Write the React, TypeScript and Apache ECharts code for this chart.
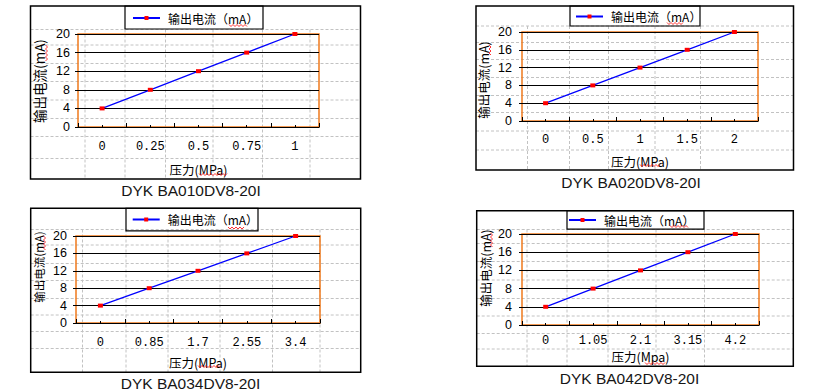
import React, { useEffect, useRef } from 'react';
import * as echarts from 'echarts';

// ---------- data ----------
const seriesName = '输出电流（mA）';
const yAxisName = '输出电流(mA)';
const xAxisNames = ['压力(MPa)', '压力(MPa)', '压力(MPa)', '压力(Mpa)'];
const modelNames = ['DYK BA010DV8-20I', 'DYK BA020DV8-20I', 'DYK BA034DV8-20I', 'DYK BA042DV8-20I'];

const pressure1 = ['0', '0.25', '0.5', '0.75', '1'];
const pressure2 = ['0', '0.5', '1', '1.5', '2'];
const pressure3 = ['0', '0.85', '1.7', '2.55', '3.4'];
const pressure4 = ['0', '1.05', '2.1', '3.15', '4.2'];

const current1 = [4, 8, 12, 16, 20];
const current2 = [4, 8, 12, 16, 20];
const current3 = [4, 8, 12, 16, 20];
const current4 = [4, 8, 12, 16, 20];

const yMin = 0;
const yMax = 20;
const yStep = 4;

// ---------- layout ----------
const CJK = '"Noto Sans CJK SC", "Noto Sans", sans-serif';
const ORANGE = '#f07a1c';

const panels = [
  {
    cats: pressure1, values: current1,
    box: [30.5, 6, 330, 173], legendBox: [125, 6, 138, 23], legendAt: [132, 12],
    grid: [78, 34, 241, 93], yLabelMargin: 8, xLabelMargin: 14, xNameGap: 36,
    yName: [39, 81, 13.5],
    title: [191, 190.5],
    hLines: [29.5, 45, 63.5, 81.5, 100, 118.5, 136.5, 158.5], vLines: [85, 125, 165.5, 213, 262.5, 310],
    squigH: [[229, 248, 25.5], [199, 227, 174.5]], squigV: [[46.5, 45, 61]],
  },
  {
    cats: pressure2, values: current2,
    box: [476, 6, 317.5, 164], legendBox: [570, 6, 130, 20], legendAt: [575, 10.5],
    grid: [522, 32, 236, 89], yLabelMargin: 10, xLabelMargin: 13, xNameGap: 34,
    yName: [483.5, 80, 12.5],
    title: [631, 182.5],
    hLines: [26, 42.5, 59.5, 77.5, 95.5, 112.5, 131, 150], vLines: [527.5, 569.5, 608.5, 655, 700.5],
    squigH: [[667, 684, 23.5], [640, 661, 165.5]], squigV: [[490, 45, 56]],
  },
  {
    cats: pressure3, values: current3,
    box: [30.7, 208.3, 330, 164], legendBox: [126, 208.3, 132, 22.5], legendAt: [131.7, 213.5],
    grid: [76, 236, 244, 87], yLabelMargin: 9, xLabelMargin: 14, xNameGap: 33,
    yName: [38.5, 267, 11.5],
    title: [190.5, 383],
    hLines: [229.5, 245, 263.5, 280.5, 298.5, 315, 331.5, 348.5], vLines: [82.5, 126, 168, 220, 272.5, 320],
    squigH: [[228, 245, 228], [198, 221, 366.5]], squigV: [[44.5, 236, 251]],
  },
  {
    cats: pressure4, values: current4,
    box: [476.7, 210.7, 316.6, 155.5], legendBox: [567, 210.7, 137, 18.5], legendAt: [568, 214],
    grid: [522, 234, 237, 91], yLabelMargin: 10, xLabelMargin: 10, xNameGap: 25,
    yName: [485, 268, 12.5],
    title: [629.5, 378],
    hLines: [229.5, 243.5, 261.5, 280, 298.5, 316, 333.5, 349], vLines: [527, 567, 608, 656, 704.5],
    squigH: [[670, 688, 226.5], [645, 665, 363.5]], squigV: [[491.5, 233, 248]],
  },
];

function zigzagH(x1: number, x2: number, y: number): number[][] {
  const pts: number[][] = [];
  let k = 0;
  for (let x = x1; x <= x2; x += 2, k++) pts.push([x, y + (k % 2 === 0 ? -1 : 1)]);
  return pts;
}
function zigzagV(x: number, y1: number, y2: number): number[][] {
  const pts: number[][] = [];
  let k = 0;
  for (let y = y1; y <= y2; y += 2, k++) pts.push([x + (k % 2 === 0 ? -1 : 1), y]);
  return pts;
}

function buildOption(): echarts.EChartsOption {
  const graphic: any[] = [];
  panels.forEach((p, i) => {
    const [bx, by, bw, bh] = p.box;
    const top = p.hLines[0];
    p.hLines.forEach((y) => {
      graphic.push({
        type: 'line', silent: true, z: -5,
        shape: { x1: bx, y1: y, x2: bx + bw, y2: y },
        style: { stroke: '#c2c2c2', lineWidth: 1, lineDash: [3, 2] },
      });
    });
    p.vLines.forEach((x) => {
      graphic.push({
        type: 'line', silent: true, z: -5,
        shape: { x1: x, y1: top, x2: x, y2: by + bh },
        style: { stroke: '#c2c2c2', lineWidth: 1, lineDash: [3, 2] },
      });
    });
    graphic.push({
      type: 'rect', silent: true, z: 10,
      shape: { x: bx, y: by, width: bw, height: bh },
      style: { fill: 'none', stroke: '#000', lineWidth: 1.5 },
    });
    const [lx, ly, lw, lh] = p.legendBox;
    graphic.push({
      type: 'rect', silent: true, z: 10,
      shape: { x: lx, y: ly, width: lw, height: lh },
      style: { fill: 'none', stroke: '#000', lineWidth: 1.2 },
    });
    p.squigH.forEach(([x1, x2, y]) => {
      graphic.push({
        type: 'polyline', silent: true, z: 11,
        shape: { points: zigzagH(x1, x2, y) },
        style: { fill: 'none', stroke: '#ff0000', lineWidth: 0.8 },
      });
    });
    p.squigV.forEach(([x, y1, y2]) => {
      graphic.push({
        type: 'polyline', silent: true, z: 11,
        shape: { points: zigzagV(x, y1, y2) },
        style: { fill: 'none', stroke: '#ff0000', lineWidth: 0.8 },
      });
    });
    graphic.push({
      type: 'text', silent: true, z: 10,
      x: p.yName[0], y: p.yName[1], rotation: Math.PI / 2,
      style: {
        text: yAxisName, fontSize: p.yName[2], fontFamily: CJK,
        fill: '#000', align: 'center', verticalAlign: 'middle',
      },
    });
    graphic.push({
      type: 'text', silent: true, z: 10,
      x: p.title[0], y: p.title[1],
      style: {
        text: modelNames[i], fontSize: 15.5, fontFamily: '"Liberation Sans", Arial, sans-serif',
        fill: '#161616', align: 'center', verticalAlign: 'middle',
      },
    });
  });

  const xAxis: any[] = [];
  panels.forEach((p, i) => {
    xAxis.push({
      type: 'category', gridIndex: i, data: p.cats, position: 'bottom', boundaryGap: true,
      axisLine: { show: true, lineStyle: { color: '#000', width: 1 } },
      axisTick: { show: true, inside: true, length: 4, lineStyle: { color: '#000' } },
      axisLabel: { margin: p.xLabelMargin, fontFamily: '"Liberation Mono", monospace', fontSize: 12, color: '#000' },
      splitLine: { show: false },
      name: xAxisNames[i], nameLocation: 'middle', nameGap: p.xNameGap,
      nameTextStyle: { fontFamily: CJK, fontSize: 12.5, color: '#000' },
    });
    xAxis.push({
      type: 'category', gridIndex: i, data: p.cats, position: 'bottom', boundaryGap: true,
      axisLine: { show: false },
      axisTick: { show: true, inside: true, length: 2, alignWithLabel: true, lineStyle: { color: '#000' } },
      axisLabel: { show: false },
      splitLine: { show: false },
    });
  });

  return {
    animation: false,
    backgroundColor: '#ffffff',
    grid: panels.map((p) => ({
      left: p.grid[0], top: p.grid[1], width: p.grid[2], height: p.grid[3],
      show: true, borderColor: ORANGE, borderWidth: 1.5, backgroundColor: 'transparent',
    })),
    legend: panels.map((p) => ({
      left: p.legendAt[0], top: p.legendAt[1], padding: 0, itemGap: 0,
      itemWidth: 27, itemHeight: 5, selectedMode: false,
      data: [seriesName],
      textStyle: { fontFamily: CJK, fontSize: 12, color: '#000', padding: [0, 0, 0, 3] },
    })),
    xAxis,
    yAxis: panels.map((p, i) => ({
      type: 'value', gridIndex: i, min: yMin, max: yMax, interval: yStep,
      axisLine: { show: false },
      axisTick: { show: true, length: 3, lineStyle: { color: '#000' } },
      axisLabel: { margin: p.yLabelMargin, fontFamily: '"Liberation Sans", Arial, sans-serif', fontSize: 12.5, color: '#000' },
      splitLine: { show: true, lineStyle: { color: '#000', width: 1 } },
    })),
    series: panels.map((p, i) => ({
      type: 'line', name: seriesName, xAxisIndex: i * 2, yAxisIndex: i,
      data: p.values, symbol: 'rect', symbolSize: [5, 4], showSymbol: true,
      itemStyle: { color: '#ff0000' },
      lineStyle: { color: '#0000ff', width: 1.3 },
      z: 3,
    })),
    graphic,
  } as any;
}

export default function App() {
  const ref = useRef<HTMLDivElement>(null);
  useEffect(() => {
    if (!ref.current) return;
    const chart = echarts.init(ref.current, undefined, { renderer: 'svg' });
    chart.setOption(buildOption());
    return () => chart.dispose();
  }, []);
  return (
    <div
      ref={ref}
      style={{ position: 'absolute', left: 0, top: 0, width: 821, height: 392, background: '#fff' }}
    />
  );
}
